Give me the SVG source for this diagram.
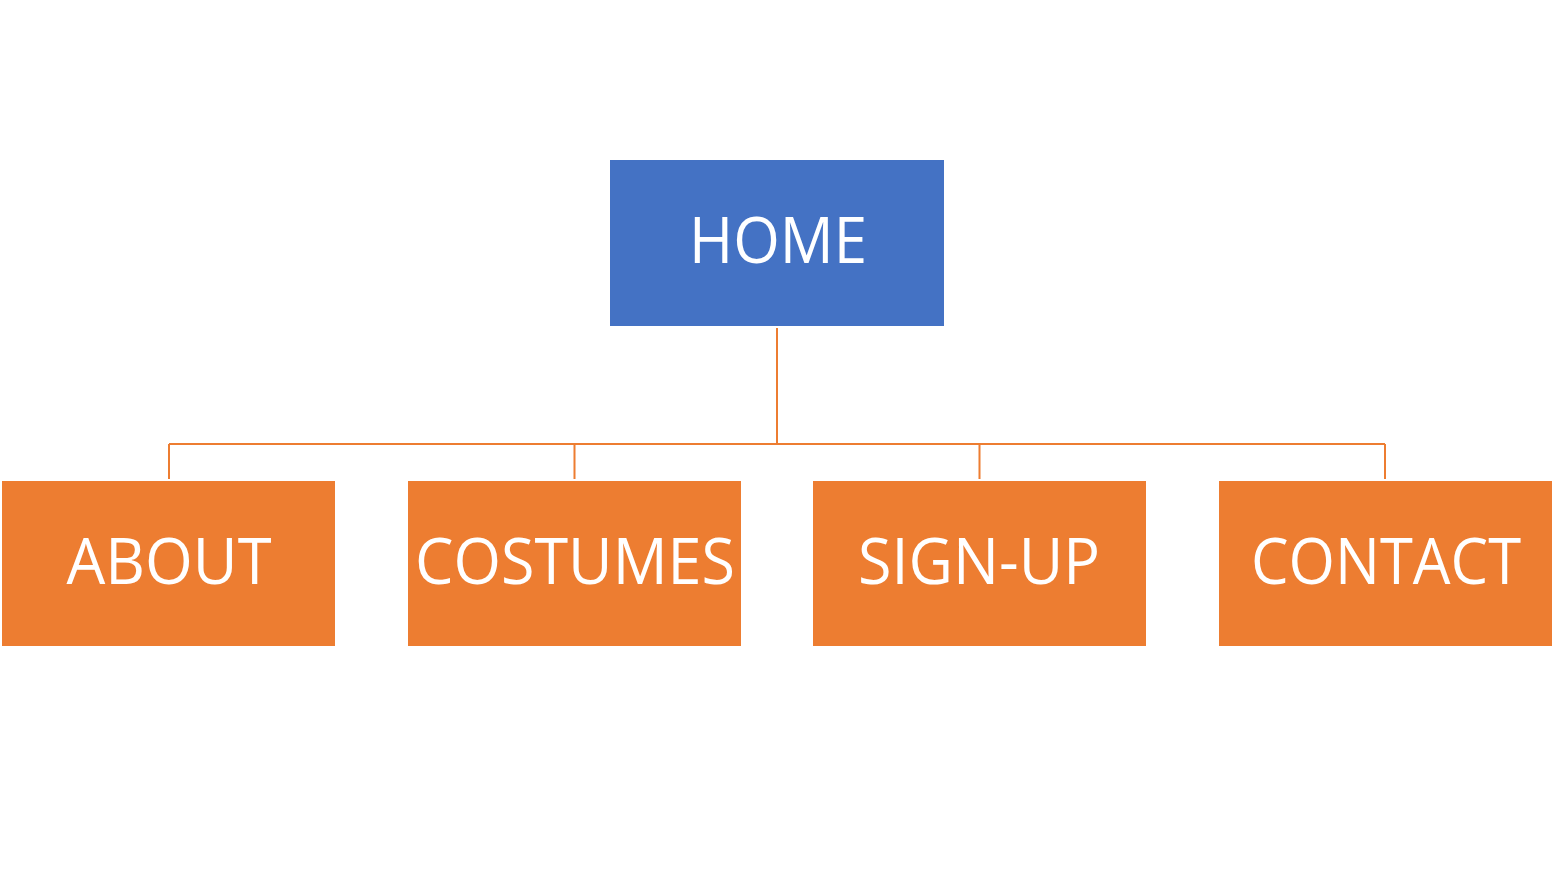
<svg xmlns="http://www.w3.org/2000/svg" width="1565" height="889" viewBox="0 0 1565 889">
<style>
.lbl{font-family:"Open Sans","Noto Sans",sans-serif;font-size:64px;fill:#ffffff;text-anchor:middle}
.child{fill:#ED7D31}
.conn{stroke:#ED7D31;stroke-width:2;fill:none}
</style>
<rect width="1565" height="889" fill="#ffffff"/>
<g id="connectors">
<path class="conn" d="M777 328V444M169 444H1385M169 444V479M574.5 444V479M979.5 444V479M1385 444V479"/>
</g>
<g id="home">
<rect x="610" y="160" width="334" height="166" fill="#4472C4"/>
<text class="lbl" x="778" y="263" textLength="178" lengthAdjust="spacingAndGlyphs">HOME</text>
</g>
<g id="about">
<rect class="child" x="2" y="481" width="333" height="165"/>
<text class="lbl" x="169" y="584" textLength="205" lengthAdjust="spacingAndGlyphs">ABOUT</text>
</g>
<g id="costumes">
<rect class="child" x="408" y="481" width="333" height="165"/>
<text class="lbl" x="575" y="584" textLength="320" lengthAdjust="spacingAndGlyphs">COSTUMES</text>
</g>
<g id="signup">
<rect class="child" x="813" y="481" width="333" height="165"/>
<text class="lbl" x="979" y="584" textLength="242" lengthAdjust="spacingAndGlyphs">SIGN-UP</text>
</g>
<g id="contact">
<rect class="child" x="1219" y="481" width="333" height="165"/>
<text class="lbl" x="1386" y="584" textLength="270" lengthAdjust="spacingAndGlyphs">CONTACT</text>
</g>
</svg>
